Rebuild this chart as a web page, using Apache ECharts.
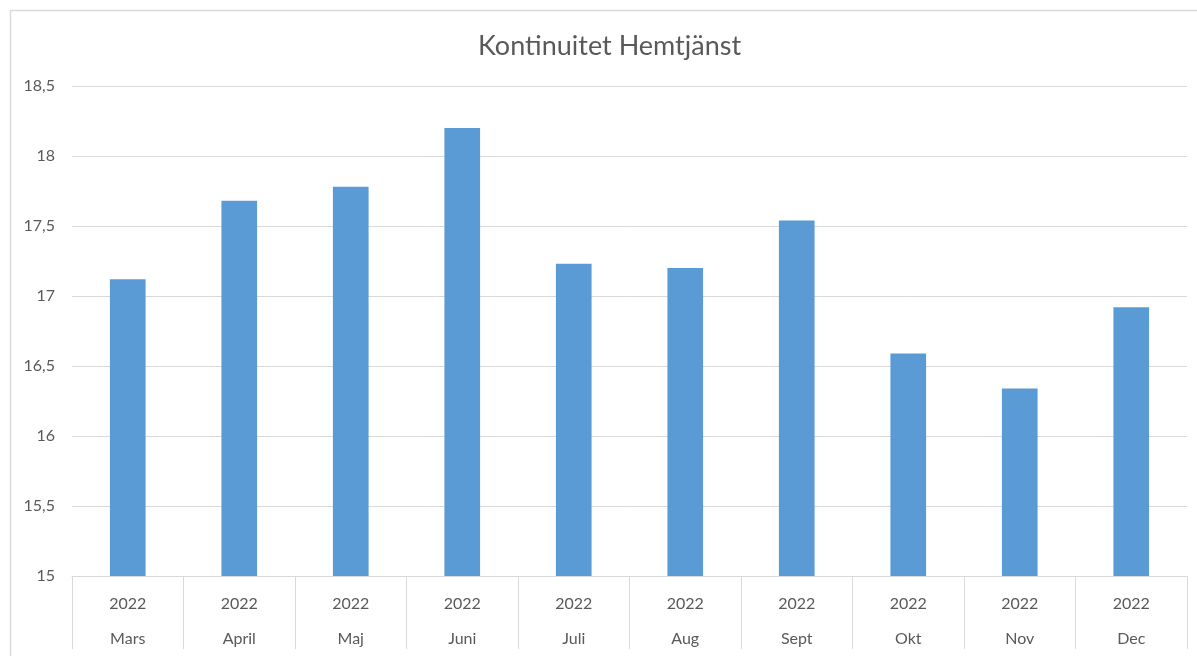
<!DOCTYPE html>
<html>
<head>
<meta charset="utf-8">
<script src="https://cdn.jsdelivr.net/npm/echarts@6/dist/echarts.min.js"></script>
<style>
html,body{margin:0;padding:0;background:#fff;}
#c{width:1197px;height:656px;}
</style>
</head>
<body>
<div id="c"></div>
<script>
const title = 'Kontinuitet Hemtjänst';
const months = ['Mars','April','Maj','Juni','Juli','Aug','Sept','Okt','Nov','Dec'];
const years = ['2022','2022','2022','2022','2022','2022','2022','2022','2022','2022'];
const values = [17.12, 17.68, 17.78, 18.2, 17.23, 17.2, 17.54, 16.59, 16.34, 16.92];
const yMin = 15, yMax = 18.5, yStep = 0.5;

const chart = echarts.init(document.getElementById('c'), null, {renderer:'canvas'});
const font = 'Lato, "Noto Sans", sans-serif';
chart.setOption({
  animation: false,
  backgroundColor: '#fff',
  title: {
    text: title, left: 473, top: 28,
    textStyle: {fontFamily: font, fontSize: 27, fontWeight: 'normal', color: '#595959'}
  },
  graphic: [{
    type: 'rect', silent: true, z: -1,
    shape: {x: 10.5, y: 10.5, width: 1250, height: 700},
    style: {fill: 'none', stroke: '#d9d9d9', lineWidth: 1.5}
  }],
  grid: {left: 72, right: 10, top: 86, bottom: 80},
  xAxis: {
    type: 'category',
    data: months.map((m, i) => years[i] + '|' + m),
    axisLine: {show: true, lineStyle: {color: '#d9d9d9', width: 1}},
    axisTick: {show: true, interval: 0, length: 73, alignWithLabel: false, lineStyle: {color: '#d9d9d9', width: 1}},
    axisLabel: {
      interval: 0, margin: 10,
      fontFamily: font, fontSize: 16, color: '#595959',
      formatter: v => { const p = v.split('|'); return '{a|' + p[0] + '}\n{b|' + p[1] + '}'; },
      rich: {
        a: {fontFamily: font, fontSize: 16, color: '#595959', lineHeight: 35},
        b: {fontFamily: font, fontSize: 16, color: '#595959', lineHeight: 35}
      }
    }
  },
  yAxis: {
    type: 'value', min: yMin, max: yMax, interval: yStep,
    axisLine: {show: false}, axisTick: {show: false},
    splitLine: {lineStyle: {color: '#d9d9d9', width: 1}},
    axisLabel: {
      margin: 17, fontFamily: font, fontSize: 16, color: '#595959',
      formatter: v => String(v).replace('.', ',')
    }
  },
  series: [{
    type: 'bar', data: values, barWidth: '32%',
    itemStyle: {color: '#5b9bd5'}
  }]
});
</script>
</body>
</html>
